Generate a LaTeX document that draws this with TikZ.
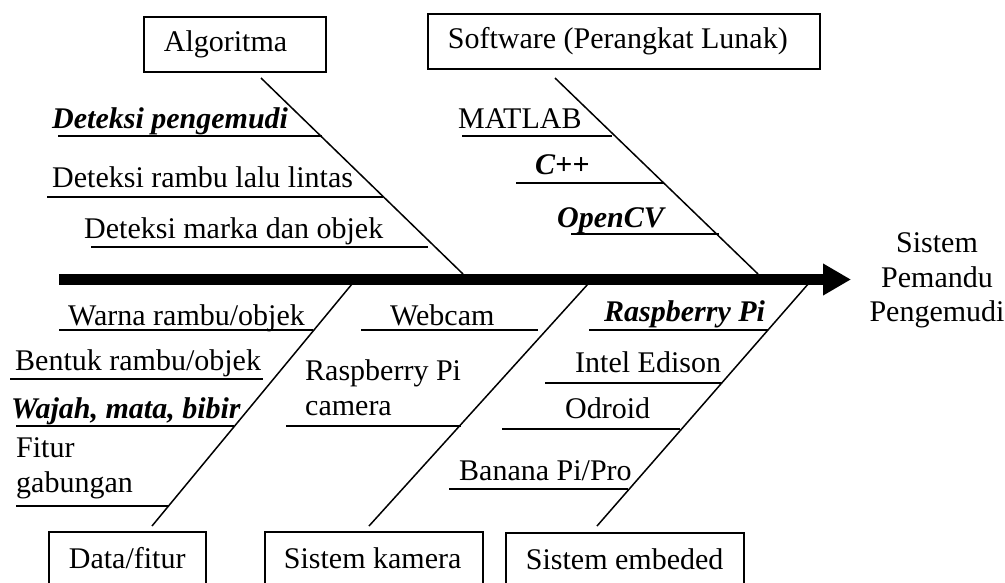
\documentclass[tikz,border=0pt]{standalone}
\usepackage{fontspec}
\setmainfont{Liberation Serif}
\usetikzlibrary{arrows.meta}
\newcommand{\boxtxt}[2]{\makebox[#1][l]{#2}}
\tikzset{
  every node/.style={font=\fontsize{30}{34.5}\selectfont},
  lbl/.style={anchor=base west, inner sep=0pt},
  blbl/.style={anchor=base west, inner sep=0pt, font=\fontsize{30}{34.5}\selectfont\bfseries\itshape},
  tlbl/.style={anchor=base, inner sep=0pt},
  catbox/.style={draw, line width=1.8pt, anchor=north west, inner xsep=20pt, inner ysep=0pt,
     text height=21pt, text depth=7pt},
  bone/.style={line width=1.5pt},
  uline/.style={line width=1.7pt},
  spine/.style={line width=11pt, -{Triangle[length=28pt,width=30pt]}}
}
\begin{document}
\begin{tikzpicture}[x=1pt,y=-1pt]
\useasboundingbox (0,0) rectangle (1005,582);
\clip (0,0) rectangle (1005,582);
% category boxes
\node[catbox, minimum height=55pt] (alg) at (143,16) {\boxtxt{142pt}{Algoritma}};
\node[catbox, minimum height=55pt] (sw) at (427,13) {\boxtxt{352pt}{Software (Perangkat Lunak)}};
\node[catbox, minimum height=60pt] (dat) at (48,531) {\boxtxt{117pt}{Data/fitur}};
\node[catbox, inner xsep=19pt, minimum height=60pt] (kam) at (264,531) {\boxtxt{180pt}{Sistem kamera}};
\node[catbox, minimum height=60pt] (emb) at (505,532) {\boxtxt{198pt}{Sistem embeded}};
% spine
\coordinate (s0) at (59,279.5);
\coordinate (tip) at (851,279.5);
\draw[spine] (s0) -- (tip);
\node[tlbl] (t1) at (937,252) {Sistem};
\node[tlbl] (t2) at (937,287) {Pemandu};
\node[tlbl] (t3) at (937,321) {Pengemudi};
% bones
\coordinate (a0) at (261,78);  \coordinate (a1) at (463,274);
\coordinate (b0) at (555,78);  \coordinate (b1) at (758,274);
\coordinate (c0) at (152,526); \coordinate (c1) at (352,284);
\coordinate (d0) at (369,526); \coordinate (d1) at (588,284);
\coordinate (e0) at (597,526); \coordinate (e1) at (809,283);
\draw[bone] (a0) -- (a1);
\draw[bone] (b0) -- (b1);
\draw[bone] (c0) -- (c1);
\draw[bone] (d0) -- (d1);
\draw[bone] (e0) -- (e1);
% Algoritma causes
\node[blbl] (a-1) at (52,128) {Deteksi pengemudi};
\node[lbl] (a-2) at (52,187) {Deteksi rambu lalu lintas};
\node[lbl] (a-3) at (84,238) {Deteksi marka dan objek};
\coordinate (ua1s) at (58,136); \coordinate (ua1e) at (322,136);
\coordinate (ua2s) at (47,197); \coordinate (ua2e) at (383,197);
\coordinate (ua3s) at (91,247); \coordinate (ua3e) at (428,247);
\draw[uline] (ua1s) -- (ua1e);
\draw[uline] (ua2s) -- (ua2e);
\draw[uline] (ua3s) -- (ua3e);
% Software causes
\node[lbl] (b-1) at (458,128) {MATLAB};
\node[blbl] (b-2) at (535,174) {C++};
\node[blbl] (b-3) at (557,227) {OpenCV};
\coordinate (ub1s) at (462,136); \coordinate (ub1e) at (612,136);
\coordinate (ub2s) at (516,183); \coordinate (ub2e) at (664,183);
\coordinate (ub3s) at (571,234); \coordinate (ub3e) at (719,234);
\draw[uline] (ub1s) -- (ub1e);
\draw[uline] (ub2s) -- (ub2e);
\draw[uline] (ub3s) -- (ub3e);
% Data/fitur causes
\node[lbl] (c-1) at (68,325) {Warna rambu/objek};
\node[lbl] (c-2) at (15,370) {Bentuk rambu/objek};
\node[blbl] (c-3) at (11,418) {Wajah, mata, bibir};
\node[lbl] (c-4a) at (16,457) {Fitur};
\node[lbl] (c-4b) at (16,492) {gabungan};
\coordinate (uc1s) at (59,330); \coordinate (uc1e) at (313,330);
\coordinate (uc2s) at (10,379); \coordinate (uc2e) at (263,379);
\coordinate (uc3s) at (16,426); \coordinate (uc3e) at (234,426);
\coordinate (uc4s) at (16,506); \coordinate (uc4e) at (168,506);
\draw[uline] (uc1s) -- (uc1e);
\draw[uline] (uc2s) -- (uc2e);
\draw[uline] (uc3s) -- (uc3e);
\draw[uline] (uc4s) -- (uc4e);
% Sistem kamera causes
\node[lbl] (d-1) at (390,325) {Webcam};
\node[lbl] (d-2a) at (305,380) {Raspberry Pi};
\node[lbl] (d-2b) at (305,415) {camera};
\coordinate (ud1s) at (361,330); \coordinate (ud1e) at (538,330);
\coordinate (ud2s) at (286,426); \coordinate (ud2e) at (461,426);
\draw[uline] (ud1s) -- (ud1e);
\draw[uline] (ud2s) -- (ud2e);
% Sistem embeded causes
\node[blbl] (e-1) at (604,321) {Raspberry Pi};
\node[lbl] (e-2) at (575,372) {Intel Edison};
\node[lbl] (e-3) at (565,418) {Odroid};
\node[lbl] (e-4) at (459,480) {Banana Pi/Pro};
\coordinate (ue1s) at (589,330); \coordinate (ue1e) at (768,330);
\coordinate (ue2s) at (545,383); \coordinate (ue2e) at (722,383);
\coordinate (ue3s) at (502,429); \coordinate (ue3e) at (680,429);
\coordinate (ue4s) at (449,489); \coordinate (ue4e) at (628,489);
\draw[uline] (ue1s) -- (ue1e);
\draw[uline] (ue2s) -- (ue2e);
\draw[uline] (ue3s) -- (ue3e);
\draw[uline] (ue4s) -- (ue4e);
\end{tikzpicture}
\end{document}
